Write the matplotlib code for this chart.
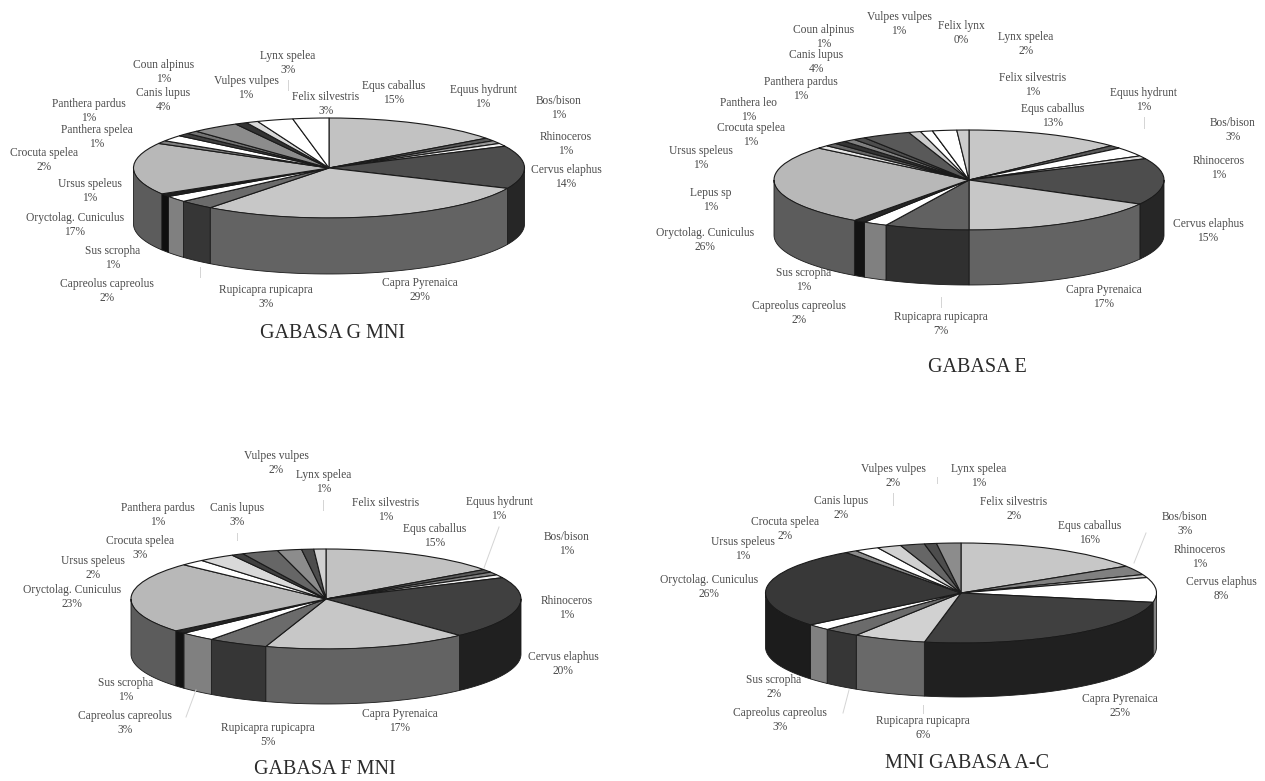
import numpy as np
import matplotlib
matplotlib.use('Agg')
import matplotlib.pyplot as plt

plt.rcParams['font.family'] = ['Liberation Serif', 'DejaVu Serif']

W, H = 1265, 781

# GABASA G
names_g = ['Equs caballus', 'Equus hydrunt', 'Bos/bison', 'Rhinoceros', 'Cervus elaphus',
           'Capra Pyrenaica', 'Rupicapra rupicapra', 'Capreolus capreolus', 'Sus scropha',
           'Oryctolag. Cuniculus', 'Ursus speleus', 'Crocuta spelea', 'Panthera spelea',
           'Panthera pardus', 'Canis lupus', 'Coun alpinus', 'Vulpes vulpes', 'Lynx spelea',
           'Felix silvestris']
values_g = [15, 1, 1, 1, 14, 29, 3, 2, 1, 17, 1, 2, 1, 1, 4, 1, 1, 3, 3]

# GABASA E
names_e = ['Equs caballus', 'Equus hydrunt', 'Bos/bison', 'Rhinoceros', 'Cervus elaphus',
           'Capra Pyrenaica', 'Rupicapra rupicapra', 'Capreolus capreolus', 'Sus scropha',
           'Oryctolag. Cuniculus', 'Lepus sp', 'Ursus speleus', 'Crocuta spelea', 'Panthera leo',
           'Panthera pardus', 'Canis lupus', 'Coun alpinus', 'Vulpes vulpes', 'Felix lynx',
           'Lynx spelea', 'Felix silvestris']
values_e = [13, 1, 3, 1, 15, 17, 7, 2, 1, 26, 1, 1, 1, 1, 1, 4, 1, 1, 0, 2, 1]

# GABASA F
names_f = ['Equs caballus', 'Equus hydrunt', 'Bos/bison', 'Rhinoceros', 'Cervus elaphus',
           'Capra Pyrenaica', 'Rupicapra rupicapra', 'Capreolus capreolus', 'Sus scropha',
           'Oryctolag. Cuniculus', 'Ursus speleus', 'Crocuta spelea', 'Panthera pardus',
           'Canis lupus', 'Vulpes vulpes', 'Lynx spelea', 'Felix silvestris']
values_f = [15, 1, 1, 1, 20, 17, 5, 3, 1, 23, 2, 3, 1, 3, 2, 1, 1]

# GABASA A-C
names_ac = ['Equs caballus', 'Bos/bison', 'Rhinoceros', 'Cervus elaphus', 'Capra Pyrenaica',
            'Rupicapra rupicapra', 'Capreolus capreolus', 'Sus scropha', 'Oryctolag. Cuniculus',
            'Ursus speleus', 'Crocuta spelea', 'Canis lupus', 'Vulpes vulpes', 'Lynx spelea',
            'Felix silvestris']
values_ac = [16, 3, 1, 8, 25, 6, 3, 2, 26, 1, 2, 2, 2, 1, 2]

# grey level of each slice top, the wall is drawn at half of it
tones_g = [.76, .35, .6, .95, .3, .78, .42, 1, .12, .72, .5, 1, .25, .45, .55, .2, .85, 1, 1]
tones_e = [.78, .35, 1, .85, .3, .78, .38, 1, .15, .72, .9, .4, .2, .5, .3, .35, .8, 1, .3, 1, .8]
tones_f = [.76, .35, .5, .95, .25, .78, .42, 1, .15, .72, 1, .85, .25, .4, .55, .3, .82]
tones_ac = [.78, .5, .8, 1, .25, .82, .42, 1, .22, .55, 1, .82, .4, .3, .55]

# centre x, centre y, rx, ry, wall height in pixels
geom_g = (329, 168, 195.5, 50, 56)
geom_e = (969, 180, 195, 50, 55)
geom_f = (326, 599, 195, 50, 55)
geom_ac = (961, 593, 195.5, 50, 54)

# label centres in pixels
pos_g = [(394, 93), (483, 97), (559, 108), (566, 144), (566, 177), (420, 290), (266, 297),
         (107, 291), (113, 258), (75, 225), (90, 191), (44, 160), (97, 137), (89, 111),
         (163, 100), (164, 72), (246, 88), (288, 63), (326, 104)]
pos_e = [(1053, 116), (1144, 100), (1233, 130), (1219, 168), (1208, 231), (1104, 297), (941, 324),
         (799, 313), (804, 280), (705, 240), (711, 200), (701, 158), (751, 135), (749, 110),
         (801, 89), (816, 62), (824, 37), (899, 24), (961, 33), (1026, 44), (1033, 85)]
pos_f = [(435, 536), (499, 509), (567, 544), (567, 608), (563, 664), (400, 721), (268, 735),
         (125, 723), (126, 690), (72, 597), (93, 568), (140, 548), (158, 515), (237, 515),
         (276, 463), (324, 482), (386, 510)]
pos_ac = [(1090, 533), (1185, 524), (1200, 557), (1221, 589), (1120, 706), (923, 728), (780, 720),
          (774, 687), (709, 587), (743, 549), (785, 529), (841, 508), (893, 476), (979, 476),
          (1014, 509)]

titles = ['GABASA G MNI', 'GABASA E', 'GABASA F MNI', 'MNI GABASA A-C']
title_pos = [(332, 334), (977, 368), (325, 770), (967, 763)]

# faint leader lines left in the scan
leaders = [((288, 80), (288, 90)), ((200, 267), (200, 277)),
           ((941, 297), (941, 307)), ((1144, 117), (1144, 128)),
           ((499, 527), (484, 568)), ((196, 690), (186, 717)), ((237, 533), (237, 540)),
           ((323, 500), (323, 510)),
           ((1146, 533), (1134, 563)), ((849, 690), (843, 713)), ((923, 705), (923, 713)),
           ((893, 493), (893, 505)), ((937, 477), (937, 483))]


def grey(t):
    return (t, t, t)


def draw_pie(fig, values, tones, geom):
    cx, cy, rx, ry, depth = geom
    ax = fig.add_axes([(cx - rx) / W, 1 - (cy + ry) / H, 2 * rx / W, 2 * ry / H])
    colors = [grey(t) for t in tones]
    ax.pie(values, colors=colors, startangle=90, counterclock=False, radius=1,
           wedgeprops={'edgecolor': '#1a1a1a', 'linewidth': 0.8, 'clip_on': False})
    ax.set_aspect('auto')
    ax.set_xlim(-1, 1)
    ax.set_ylim(-1, 1)

    # front wall, only the part of each slice between 3 and 9 o'clock shows
    h = 2 * depth / (2 * ry)
    ends = np.cumsum(values) / np.sum(values) * 2 * np.pi
    starts = np.concatenate(([0], ends[:-1]))
    for a, b, t in zip(starts, ends, tones):
        a2, b2 = max(a, np.pi / 2), min(b, 3 * np.pi / 2)
        if b2 <= a2:
            continue
        th = np.linspace(a2, b2, 60)
        x = np.sin(th)
        y = np.cos(th)
        ax.fill(np.concatenate((x, x[::-1])), np.concatenate((y, y[::-1] - h)),
                facecolor=grey(t * 0.5), edgecolor='#1a1a1a', linewidth=0.6, clip_on=False)
    return ax


fig = plt.figure(figsize=(W / 100, H / 100), dpi=100, facecolor='white')

overlay = fig.add_axes([0, 0, 1, 1], zorder=5)
overlay.set_xlim(0, W)
overlay.set_ylim(H, 0)
overlay.axis('off')

charts = [(names_g, values_g, tones_g, geom_g, pos_g),
          (names_e, values_e, tones_e, geom_e, pos_e),
          (names_f, values_f, tones_f, geom_f, pos_f),
          (names_ac, values_ac, tones_ac, geom_ac, pos_ac)]

for names, values, tones, geom, pos in charts:
    draw_pie(fig, values, tones, geom)
    for name, v, (x, y) in zip(names, values, pos):
        overlay.text(x, y, f'{name}\n{v}%', ha='center', va='center', fontsize=8.3,
                     color='#4a4a4a', linespacing=1.2)

for t, (x, y) in zip(titles, title_pos):
    overlay.text(x, y, t, ha='center', va='center', fontsize=14.5, color='#2b2b2b')

for (x0, y0), (x1, y1) in leaders:
    overlay.plot([x0, x1], [y0, y1], color='#d4d4d4', lw=0.7)

fig.savefig('out.png', dpi=100)
